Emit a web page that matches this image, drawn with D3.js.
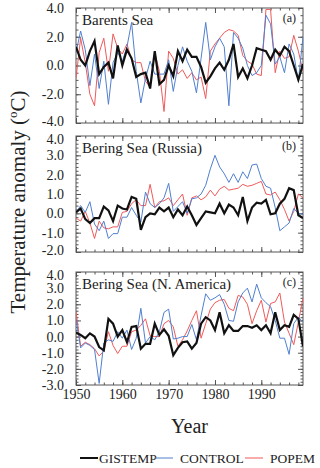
<!DOCTYPE html>
<html>
<head>
<meta charset="utf-8">
<script src="https://cdn.jsdelivr.net/npm/d3@7"></script>
<style>
  body { margin: 0; background: #fff; }
  svg text { font-family: "Liberation Serif", "DejaVu Serif", serif; fill: #222; }
</style>
</head>
<body>
<svg id="chart" width="320" height="468"></svg>
<script>
// years 1950..1999
var years = d3.range(1950, 2000);

var gistempBarents = [1.3,0.4,0.0,1.0,1.7,-0.6,-0.1,0.2,-0.9,1.4, 0.0,1.1,0.5,-0.8,-0.6,-0.5,-1.6,1.0,-1.3,-1.0,
  0.0,-0.75,1.0,0.3,1.1,0.6,0.6,-0.1,-1.2,-0.75, -0.2,0.2,-0.3,0.4,1.5,-0.8,-0.2,-0.9,0.0,1.2,
  1.1,1.0,0.4,1.1,0.7,1.3,1.0,0.0,-1.0,0.1];
var controlBarents = [0.9,2.4,1.1,-1.4,0.8,-1.6,0.3,-2.7,0.2,0.9, 0.3,1.3,3.0,-0.4,-2.6,-0.9,0.3,-0.6,-0.6,-0.6,
  0.4,-1.8,0.0,1.3,0.3,-0.4,-1.9,0.5,3.0,0.4, 1.3,1.9,1.3,-2.8,2.3,1.9,1.2,0.0,-0.7,-0.5,
  0.0,3.5,2.9,0.1,0.6,-0.5,1.5,0.8,-1.1,2.0];
var popemBarents = [-0.9,1.9,0.2,-2.0,-2.8,0.9,1.9,-0.4,2.2,1.2, 0.8,1.5,0.4,0.2,0.2,-1.1,-1.5,0.9,-0.4,-3.2,
  1.0,0.5,-0.6,-0.3,-0.9,-0.5,-1.0,-0.8,-2.3,1.0, 1.5,1.9,2.3,2.5,2.4,2.1,0.7,0.3,0.1,-0.6,
  -0.7,3.9,3.9,-0.5,1.0,0.5,0.6,2.1,1.0,-0.4];

var gistempRussia = [0.05,0.25,-0.3,-0.5,-0.25,-0.25,0.35,0.15,-0.4,0.4, 0.25,0.2,0.85,0.75,-0.85,-0.2,0.0,-0.05,0.3,0.1,
  0.3,-0.2,0.2,-0.1,0.35,-0.1,-0.6,-0.25,0.1,0.05, 0.0,0.5,0.0,0.45,0.3,-0.1,0.85,-0.4,0.3,0.55,
  0.5,0.7,-0.05,0.0,0.5,0.75,1.3,1.2,-0.1,-0.25];
var controlRussia = [0.05,0.4,0.05,0.6,-0.55,-0.9,-0.4,-1.3,-1.05,-1.05, -0.2,-0.2,0.3,-0.1,-0.45,1.1,0.5,0.3,0.5,0.8,
  1.55,0.1,0.35,0.6,0.0,0.75,0.8,1.0,1.45,2.3, 3.0,2.4,2.05,1.6,2.05,1.6,2.15,1.8,2.5,2.55,
  1.8,1.4,1.3,0.3,-0.9,-0.7,-0.5,0.25,0.0,-0.05];
var popemRussia = [-0.25,-0.4,0.1,-0.5,-1.3,-0.4,-0.75,-0.8,-0.7,-0.7, 0.05,0.1,0.5,0.7,0.4,0.4,1.5,0.3,0.6,0.65,
  0.8,0.4,0.7,1.0,-0.1,0.8,0.9,0.7,0.85,1.2, 0.9,1.25,1.4,1.2,1.25,1.3,1.5,1.4,1.45,1.55,
  1.65,1.0,0.95,1.1,0.7,0.2,-0.4,0.1,1.0,0.8];

var gistempAmerica = [0.25,0.1,-0.1,0.2,0.0,-0.65,-0.85,1.1,0.8,0.0, 0.4,-0.35,0.6,0.65,-0.75,-0.45,-0.45,0.8,0.1,0.45,
  0.05,-1.15,-0.7,-0.35,-0.3,-0.75,-0.4,0.8,1.2,1.0, 0.4,1.5,0.2,0.7,0.35,0.35,0.65,0.65,0.55,0.7,
  0.4,0.7,0.2,1.5,0.4,0.7,0.6,1.35,1.1,-0.6];
var controlAmerica = [1.1,-0.7,-0.4,-0.55,-0.8,-2.9,-0.4,-0.2,-0.3,0.3, -0.1,0.4,-0.8,-0.1,1.75,-0.4,0.0,-0.2,0.3,1.5,
  1.7,-0.15,-0.1,0.0,0.0,0.75,-0.2,1.3,2.65,2.25, 2.4,2.6,2.0,1.0,0.95,2.15,2.7,3.0,2.15,3.25,
  2.4,2.1,1.85,1.0,-0.1,-0.1,-1.1,0.8,1.2,0.9];
var popemAmerica = [1.55,-0.6,-0.35,-0.5,-0.75,-1.2,-0.9,0.3,-0.55,-1.05, -0.6,-0.6,0.3,0.4,0.7,1.1,0.05,0.0,0.0,0.8,
  1.0,0.6,-0.6,-0.2,0.35,1.0,1.6,-0.1,0.8,1.7, 2.1,2.25,2.3,1.75,1.6,2.55,2.45,2.0,0.8,1.6,
  2.25,0.9,2.05,2.15,2.7,0.9,0.2,-0.5,0.9,2.4];

var panelNames = ["Barents Sea", "Bering Sea (Russia)", "Bering Sea (N. America)"];
var panelTags = ["(a)", "(b)", "(c)"];
var yTicksBarents = [-4, -2, 0, 2, 4];
var yTicksRussia = [-2, -1, 0, 1, 2, 3, 4];
var yTicksAmerica = [-3, -2, -1, 0, 1, 2, 3, 4];
var xTicks = [1950, 1960, 1970, 1980, 1990];
var seriesNames = ["GISTEMP", "CONTROL", "POPEM"];
var seriesColors = ["#111111", "#5080d0", "#f05a5a"];
var seriesWidths = [2.2, 1, 1];

var panels = [
  { name: panelNames[0], tag: panelTags[0], top: 8, bottom: 123, ticks: yTicksBarents, minor: 0.5,
    series: [gistempBarents, controlBarents, popemBarents] },
  { name: panelNames[1], tag: panelTags[1], top: 136, bottom: 252, ticks: yTicksRussia, minor: 0.2,
    series: [gistempRussia, controlRussia, popemRussia] },
  { name: panelNames[2], tag: panelTags[2], top: 272, bottom: 385, ticks: yTicksAmerica, minor: 0.2,
    series: [gistempAmerica, controlAmerica, popemAmerica] }
];

var svg = d3.select("#chart");
var left = 76, right = 303;

var x = d3.scaleLinear().domain([1950, 1999]).range([left, right]);
var fmt = function (d) { return d.toFixed(1); };
var axisColor = "#555";

panels.forEach(function (p, i) {
  var ext = d3.extent(p.ticks);
  var y = d3.scaleLinear().domain(ext).range([p.bottom, p.top]);
  var g = svg.append("g");
  var minorY = d3.range(ext[0], ext[1] + 1e-6, p.minor).map(function (v) { return +v.toFixed(2); });
  var minorX = d3.range(1950, 2000, 2);

  g.append("clipPath").attr("id", "clip" + i)
    .append("rect").attr("x", left).attr("y", p.top).attr("width", right - left).attr("height", p.bottom - p.top);

  // minor ticks on all sides
  g.append("g").attr("transform", "translate(" + left + ",0)")
    .call(d3.axisLeft(y).tickValues(minorY).tickSize(-2.5).tickFormat(""));
  g.append("g").attr("transform", "translate(" + right + ",0)")
    .call(d3.axisRight(y).tickValues(minorY).tickSize(-2.5).tickFormat(""));
  g.append("g").attr("transform", "translate(0," + p.bottom + ")")
    .call(d3.axisBottom(x).tickValues(minorX).tickSize(-2.5).tickFormat(""));
  g.append("g").attr("transform", "translate(0," + p.top + ")")
    .call(d3.axisTop(x).tickValues(minorX).tickSize(-2.5).tickFormat(""));

  // major ticks
  g.append("g").attr("class", "yaxis").attr("transform", "translate(" + left + ",0)")
    .call(d3.axisLeft(y).tickValues(p.ticks).tickSize(-5).tickPadding(12).tickFormat(fmt));
  g.append("g").attr("transform", "translate(" + right + ",0)")
    .call(d3.axisRight(y).tickValues(p.ticks).tickSize(-5).tickFormat(""));
  g.append("g").attr("class", i === 2 ? "xaxis" : "").attr("transform", "translate(0," + p.bottom + ")")
    .call(d3.axisBottom(x).tickValues(xTicks).tickSize(-5).tickPadding(4)
      .tickFormat(i === 2 ? d3.format("d") : ""));
  g.append("g").attr("transform", "translate(0," + p.top + ")")
    .call(d3.axisTop(x).tickValues(xTicks).tickSize(-5).tickFormat(""));

  g.selectAll(".domain").remove();
  g.selectAll(".tick line").attr("stroke", axisColor);
  g.selectAll(".tick text").style("font-size", "14px").attr("fill", "#222");
  // keep the bottom label of a panel clear of the top label of the next one
  if (i < 2) g.selectAll(".yaxis .tick text").filter(function (d) { return d === ext[0]; }).attr("dy", "0.2em");
  if (i > 0) g.selectAll(".yaxis .tick text").filter(function (d) { return d === ext[1]; }).attr("dy", "0.5em");

  g.append("rect")
    .attr("x", left).attr("y", p.top)
    .attr("width", right - left).attr("height", p.bottom - p.top)
    .attr("fill", "none").attr("stroke", axisColor).attr("stroke-width", 1);

  var line = d3.line()
    .x(function (d, k) { return x(years[k]); })
    .y(function (d) { return y(d); });

  // draw red, blue, then black on top
  [2, 1, 0].forEach(function (s) {
    g.append("path")
      .datum(p.series[s])
      .attr("clip-path", "url(#clip" + i + ")")
      .attr("d", line)
      .attr("fill", "none")
      .attr("stroke", seriesColors[s])
      .attr("stroke-width", seriesWidths[s])
      .attr("stroke-linejoin", "miter");
  });

  g.append("text")
    .attr("x", 82).attr("y", p.top + 17)
    .style("font-size", "15px")
    .text(p.name);
  g.append("text")
    .attr("x", 296).attr("y", p.top + 14)
    .attr("text-anchor", "end")
    .style("font-size", "12px")
    .text(p.tag);
});

// axis titles
svg.append("text")
  .attr("x", (left + right) / 2).attr("y", 433)
  .attr("text-anchor", "middle")
  .style("font-size", "20px")
  .text("Year");

var yt = svg.append("text")
  .attr("transform", "translate(25,202) rotate(-90)")
  .attr("text-anchor", "middle")
  .style("font-size", "21px");
yt.append("tspan").text("Temperature anomaly (");
yt.append("tspan").attr("dy", -8).style("font-size", "13px").text("o");
yt.append("tspan").attr("dy", 8).text("C)");

// legend
var legendX = [80, 155, 245];
var legendTextX = [99, 180, 270];
var legend = svg.append("g");
seriesNames.forEach(function (n, s) {
  legend.append("line")
    .attr("x1", legendX[s]).attr("x2", legendX[s] + 18)
    .attr("y1", 458).attr("y2", 458)
    .attr("stroke", seriesColors[s])
    .attr("stroke-width", s === 0 ? 2 : 1);
  legend.append("text")
    .attr("x", legendTextX[s]).attr("y", 463)
    .style("font-size", "13.5px")
    .text(n);
});
</script>
</body>
</html>
